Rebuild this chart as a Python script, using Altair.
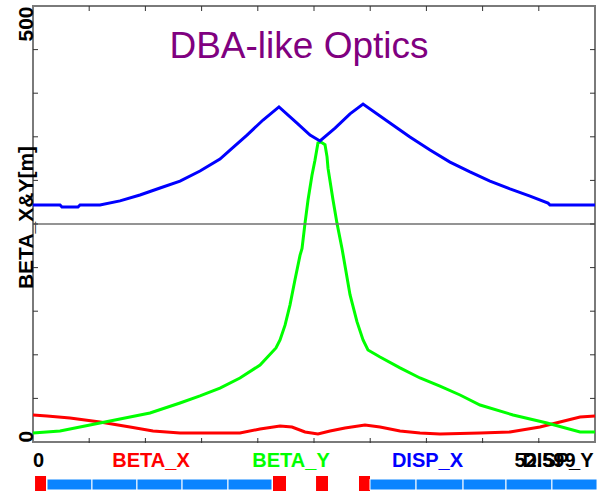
import altair as alt
import pandas as pd

RING_LENGTH = 52.599

# Optical functions along the cell, s in metres
S_BETA_X = [0.00, 1.31, 3.46, 6.27, 9.08, 11.23, 13.76, 19.37, 21.25, 23.12, 24.24,
            25.46, 26.67, 27.80, 29.20, 31.07, 32.48, 34.35, 36.22, 38.09, 41.84,
            44.64, 47.45, 49.32, 51.20, 52.60]
BETA_X = [31.0, 29.8, 27.5, 22.9, 17.2, 12.6, 10.3, 10.3, 14.9, 18.3, 17.2,
          11.5, 9.2, 12.6, 16.1, 19.5, 17.2, 12.6, 10.3, 9.2, 10.3,
          11.5, 17.2, 22.9, 28.7, 29.8]

S_BETA_Y = [0.00, 2.53, 5.33, 8.14, 10.95, 13.76, 15.63, 17.50, 19.37, 21.25, 22.74,
            23.12, 23.59, 24.05, 24.52, 24.99, 25.18, 25.46, 25.74, 26.11, 26.39,
            26.67, 26.95, 27.33, 27.52, 27.61, 28.08, 28.45, 28.92, 29.67, 30.32,
            30.89, 31.35, 32.48, 34.35, 36.22, 38.09, 39.97, 41.84, 44.93, 48.11,
            51.20, 52.60]
BETA_Y = [10.3, 12.6, 19.5, 26.4, 33.3, 44.7, 52.8, 61.9, 73.4, 88.3, 107.8,
          117.0, 134.0, 157.0, 186.0, 214.0, 222.0, 251.0, 277.5, 306.0, 323.0,
          343.0, 344.0, 341.0, 327.0, 314.0, 277.5, 251.0, 222.0, 169.0, 138.0,
          117.0, 105.5, 97.5, 85.0, 73.4, 64.2, 53.9, 42.4, 31.0, 21.8,
          11.5, 11.5]

S_DISP_X = [0.00, 2.53, 2.71, 4.21, 4.40, 6.27, 8.14, 10.01, 11.89, 13.76, 15.63,
            17.50, 18.44, 20.03, 21.53, 23.02, 24.71, 25.93, 26.86, 28.27, 29.67,
            30.89, 33.41, 35.28, 37.16, 39.03, 40.90, 42.77, 44.64, 46.52, 48.20,
            48.39, 52.60]
DISP_X = [0.087, 0.087, 0.078, 0.078, 0.087, 0.087, 0.106, 0.133, 0.165, 0.197, 0.243,
          0.298, 0.339, 0.408, 0.477, 0.537, 0.463, 0.408, 0.381, 0.440, 0.505,
          0.550, 0.463, 0.399, 0.339, 0.284, 0.239, 0.197, 0.161, 0.128, 0.096,
          0.087, 0.087]

# Magnet layout along s (metres)
QUAD_START = [0.19, 22.46, 26.49, 30.51]
QUAD_END = [1.22, 23.68, 27.61, 31.54]
BEND_START = [1.31, 5.52, 9.73, 13.95, 18.25, 31.54, 35.85, 40.25, 44.27, 48.57]
BEND_END = [5.52, 9.73, 13.95, 18.25, 22.37, 35.85, 40.25, 44.27, 48.57, 52.79]

TITLE = "DBA-like Optics"
Y_TITLE = "BETA_X&Y[m]"
BOTTOM_LABELS = ["0", "BETA_X", "BETA_Y", "DISP_X", "52.599", "DISP_Y"]
BOTTOM_COLORS = ["black", "#ff0000", "#00ff00", "#0000ff", "black", "black"]
Y_LABEL_VALUES = [0, 500]
BETA_TICKS = [50, 100, 150, 200, 250, 300, 350, 400, 450]
S_TICKS = [5.26, 10.52, 15.78, 21.04, 26.30, 31.56, 36.82, 42.08, 47.34]

W, H = 562, 436
FONT = "Liberation Sans"
# horizontal centres of the bottom labels, in pixels from the plot's left edge
LABEL_X = [5.5, 118, 258, 394.5, 512, 525]

x_scale = alt.Scale(domain=[0, RING_LENGTH], nice=False, zero=False)
beta_scale = alt.Scale(domain=[0, 500], nice=False, zero=False)
disp_scale = alt.Scale(domain=[-1, 1], nice=False, zero=False)

bx_df = pd.DataFrame({"s": S_BETA_X, "v": BETA_X})
by_df = pd.DataFrame({"s": S_BETA_Y, "v": BETA_Y})
dx_df = pd.DataFrame({"s": S_DISP_X, "v": DISP_X})

y_axis = alt.Axis(
    values=Y_LABEL_VALUES, ticks=False, domain=False, grid=False,
    labelAngle=270, labelFlush=False,
    labelAlign={"condition": {"test": "datum.value == 0", "value": "left"}, "value": "right"},
    labelBaseline="alphabetic", labelPadding=1,
    labelFont=FONT, labelFontSize=21, labelFontWeight="bold", labelColor="black",
    title=Y_TITLE, titleFont=FONT, titleFontSize=21, titleFontWeight="bold",
    titleColor="black", titleAngle=270, titleAlign="center",
    titleBaseline="alphabetic", titleX=-1, titleY=211,
)

beta_x_line = alt.Chart(bx_df).mark_line(color="#ff0000", strokeWidth=3).encode(
    x=alt.X("s:Q", scale=x_scale, axis=None),
    y=alt.Y("v:Q", scale=beta_scale, axis=y_axis),
)
beta_y_line = alt.Chart(by_df).mark_line(color="#00ff00", strokeWidth=3).encode(
    x=alt.X("s:Q", scale=x_scale, axis=None),
    y=alt.Y("v:Q", scale=beta_scale, axis=None),
)
disp_line = alt.Chart(dx_df).mark_line(color="#0000ff", strokeWidth=3).encode(
    x=alt.X("s:Q", scale=x_scale, axis=None),
    y=alt.Y("v:Q", scale=disp_scale, axis=None),
)

# zero line of the dispersion axis
divider = alt.Chart(pd.DataFrame({"d": [0.0]})).mark_rule(
    color="#707070", strokeWidth=1.5
).encode(y=alt.Y("d:Q", scale=disp_scale, axis=None))

# inward tick marks on all four sides of the frame
ytick_df = pd.DataFrame({"v": BETA_TICKS})
stick_df = pd.DataFrame({"s": S_TICKS})
tick_style = dict(color="#333333", strokeWidth=1)
left_ticks = alt.Chart(ytick_df).mark_rule(**tick_style).encode(
    x=alt.value(0), x2=alt.value(5),
    y=alt.Y("v:Q", scale=beta_scale, axis=None))
right_ticks = alt.Chart(ytick_df).mark_rule(**tick_style).encode(
    x=alt.value(W - 5), x2=alt.value(W),
    y=alt.Y("v:Q", scale=beta_scale, axis=None))
top_ticks = alt.Chart(stick_df).mark_rule(**tick_style).encode(
    x=alt.X("s:Q", scale=x_scale, axis=None),
    y=alt.value(0), y2=alt.value(5))
bottom_ticks = alt.Chart(stick_df).mark_rule(**tick_style).encode(
    x=alt.X("s:Q", scale=x_scale, axis=None),
    y=alt.value(H - 4), y2=alt.value(H + 1))

# magnet lattice strip under the plot
quads = alt.Chart(pd.DataFrame({"s0": QUAD_START, "s1": QUAD_END})).mark_rect(
    color="#ff0000"
).encode(
    x=alt.X("s0:Q", scale=x_scale, axis=None), x2="s1:Q",
    y=alt.value(470), y2=alt.value(485))
bends = alt.Chart(pd.DataFrame({"s0": BEND_START, "s1": BEND_END})).mark_rect(
    color="#0a84ff", stroke="white", strokeWidth=1
).encode(
    x=alt.X("s0:Q", scale=x_scale, axis=None), x2="s1:Q",
    y=alt.value(473), y2=alt.value(484))

title = alt.Chart(pd.DataFrame({"t": [TITLE]})).mark_text(
    font=FONT, fontSize=37, color="#800080", align="center", baseline="alphabetic"
).encode(x=alt.value(266), y=alt.value(52), text="t:N")

labels = []
for text, color, xpos in zip(BOTTOM_LABELS, BOTTOM_COLORS, LABEL_X):
    labels.append(
        alt.Chart(pd.DataFrame({"t": [text]})).mark_text(
            font=FONT, fontSize=20, fontWeight="bold", color=color,
            align="center", baseline="alphabetic"
        ).encode(x=alt.value(xpos), y=alt.value(461), text="t:N")
    )

chart = alt.layer(
    beta_x_line, beta_y_line, disp_line, divider,
    left_ticks, right_ticks, top_ticks, bottom_ticks,
    quads, bends, title, *labels,
).resolve_scale(y="independent").properties(
    width=W, height=H,
    autosize=alt.AutoSizeParams(type="none"),
    padding={"left": 33, "top": 6, "right": 2, "bottom": 53},
    background="white",
).configure_view(stroke="#7a7a7a", strokeWidth=2)

chart.save("out.html", embed_options={"renderer": "svg", "actions": False})
